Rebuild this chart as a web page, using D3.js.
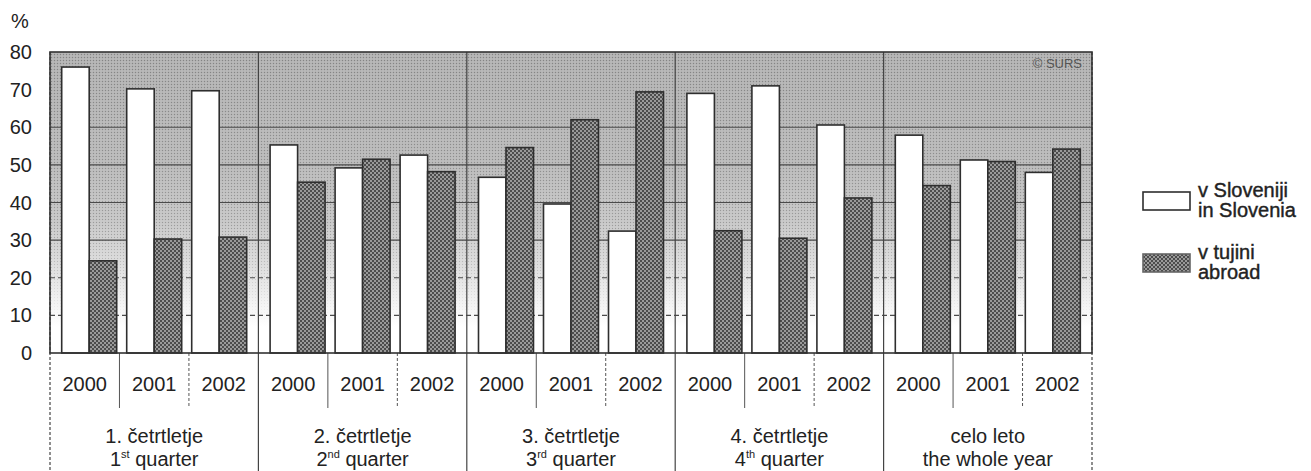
<!DOCTYPE html>
<html>
<head>
<meta charset="utf-8">
<script src="https://cdn.jsdelivr.net/npm/d3@7"></script>
<style>
  body { margin: 0; background: #fff; }
  svg text { font-family: "Liberation Sans", Arial, sans-serif; fill: #222; }
</style>
</head>
<body>
<svg id="chart" width="1311" height="471"></svg>
<script>
var groups = ["q1", "q2", "q3", "q4", "year"]
var groupLine1 = ["1. četrtletje", "2. četrtletje", "3. četrtletje", "4. četrtletje", "celo leto"]
var groupNum = ["1", "2", "3", "4", null]
var groupSup = ["st", "nd", "rd", "th", null]
var groupLine2 = ["quarter", "quarter", "quarter", "quarter", "the whole year"]
var years = ["2000", "2001", "2002"]
var series = ["slo", "abroad"]
var seriesLabels = [["v Sloveniji", "in Slovenia"], ["v tujini", "abroad"]]

// per group, per year: [v Sloveniji, v tujini]
var inSlovenia = [
    [76, 70.2, 69.7],
    [55.3, 49.2, 52.6],
    [46.7, 39.6, 32.4],
    [69, 71, 60.6],
    [57.9, 51.3, 48]
]
var abroad = [
    [24.5, 30.3, 30.8],
    [45.4, 51.5, 48.2],
    [54.6, 62, 69.4],
    [32.5, 30.5, 41.2],
    [44.5, 50.9, 54.2]
]
var yTicks = [0, 10, 20, 30, 40, 50, 60, 70, 80]
var gridValues = [10, 20, 30, 40, 50, 60]

var svg = d3.select("#chart")
var defs = svg.append("defs")

var margin = { top: 52, left: 50, right: 219, bottom: 118 }
var width = 1311, height = 471

var x0 = d3.scaleBand().domain(groups).range([margin.left, width - margin.right])
var xYear = d3.scaleBand().domain(years).range([0, x0.bandwidth()]).paddingInner(0.154).paddingOuter(0.18)
var xSer = d3.scaleBand().domain(series).range([0, xYear.bandwidth()])
var xLab = d3.scaleBand().domain(years).range([0, x0.bandwidth()])
var y = d3.scaleLinear().domain([0, 80]).range([height - margin.bottom, margin.top])

// background shading: dark halftone at top fading to white near zero
var grad = defs.append("linearGradient").attr("id", "bg")
    .attr("gradientUnits", "userSpaceOnUse")
    .attr("x1", 0).attr("x2", 0).attr("y1", y(80)).attr("y2", y(0))
var stops = [[80, "#b0b0b0"], [50, "#b9b9b9"], [35, "#c6c6c6"], [25, "#dadada"], [15, "#efefef"], [7, "#ffffff"], [0, "#ffffff"]]
stops.forEach(function(s) {
    grad.append("stop").attr("offset", (y(s[0]) - y(80)) / (y(0) - y(80))).attr("stop-color", s[1])
})

var maskGrad = defs.append("linearGradient").attr("id", "maskGrad")
    .attr("gradientUnits", "userSpaceOnUse")
    .attr("x1", 0).attr("x2", 0).attr("y1", y(80)).attr("y2", y(0))
maskGrad.append("stop").attr("offset", 0).attr("stop-color", "#fff")
maskGrad.append("stop").attr("offset", 0.6).attr("stop-color", "#ddd")
maskGrad.append("stop").attr("offset", 0.9).attr("stop-color", "#000")
defs.append("mask").attr("id", "bgMask")
    .append("rect").attr("x", 0).attr("y", 0).attr("width", width).attr("height", height)
    .attr("fill", "url(#maskGrad)")

var dots = defs.append("pattern").attr("id", "dots")
    .attr("patternUnits", "userSpaceOnUse").attr("width", 3).attr("height", 3)
dots.append("rect").attr("width", 1).attr("height", 1).attr("fill", "rgba(0,0,0,0.25)")
dots.append("rect").attr("x", 1.5).attr("y", 1.5).attr("width", 1).attr("height", 1).attr("fill", "rgba(255,255,255,0.35)")

var dark = defs.append("pattern").attr("id", "dark")
    .attr("patternUnits", "userSpaceOnUse").attr("width", 4).attr("height", 4)
dark.append("rect").attr("width", 4).attr("height", 4).attr("fill", "#9a9a9a")
dark.append("rect").attr("width", 2).attr("height", 2).attr("fill", "#4c4c4c")
dark.append("rect").attr("x", 2).attr("y", 2).attr("width", 2).attr("height", 2).attr("fill", "#4c4c4c")

var plotW = width - margin.left - margin.right
var plotH = y(0) - y(80)

svg.append("rect")
    .attr("x", margin.left).attr("y", y(80)).attr("width", plotW).attr("height", plotH)
    .attr("fill", "url(#bg)")
svg.append("rect")
    .attr("x", margin.left).attr("y", y(80)).attr("width", plotW).attr("height", plotH)
    .attr("fill", "url(#dots)").attr("mask", "url(#bgMask)")

// horizontal grid
svg.append("g").selectAll("line")
    .data(gridValues)
    .enter().append("line")
    .attr("x1", margin.left).attr("x2", width - margin.right)
    .attr("y1", function(d) { return y(d) }).attr("y2", function(d) { return y(d) })
    .attr("stroke", "#4a4a4a").attr("stroke-width", 1.2)
    .attr("stroke-dasharray", function(d) { return d <= 20 ? "5,3" : null })

// group dividers, run through plot and down past labels
var groupEdges = groups.map(function(g) { return x0(g) }).concat([width - margin.right])
svg.append("g").selectAll("line")
    .data(groupEdges)
    .enter().append("line")
    .attr("x1", function(d) { return d }).attr("x2", function(d) { return d })
    .attr("y1", y(80)).attr("y2", height)
    .attr("stroke", "#444").attr("stroke-width", 1.2)
    .attr("stroke-dasharray", function(d, i) { return i == 0 || i == groupEdges.length - 1 ? "3,2" : null })

// year dividers below the axis
var yearEdges = []
groups.forEach(function(g) {
    years.slice(1).forEach(function(yr) { yearEdges.push(x0(g) + xLab(yr)) })
})
svg.append("g").selectAll("line")
    .data(yearEdges)
    .enter().append("line")
    .attr("x1", function(d) { return d }).attr("x2", function(d) { return d })
    .attr("y1", y(0)).attr("y2", y(0) + 55)
    .attr("stroke", "#555").attr("stroke-width", 1)
    .attr("stroke-dasharray", function(d, i) { return i % 2 ? "3,2" : null })

// bars
var barData = []
groups.forEach(function(g, gi) {
    years.forEach(function(yr, yi) {
        barData.push({ g: g, yr: yr, s: "slo", v: inSlovenia[gi][yi] })
        barData.push({ g: g, yr: yr, s: "abroad", v: abroad[gi][yi] })
    })
})
svg.append("g").selectAll("rect")
    .data(barData)
    .enter().append("rect")
    .attr("x", function(d) { return x0(d.g) + xYear(d.yr) + xSer(d.s) })
    .attr("width", xSer.bandwidth())
    .attr("y", function(d) { return y(d.v) })
    .attr("height", function(d) { return y(0) - y(d.v) })
    .attr("fill", function(d) { return d.s == "slo" ? "#fff" : "url(#dark)" })
    .attr("stroke", "#2e2e2e").attr("stroke-width", 1.6)

// plot frame
svg.append("rect")
    .attr("x", margin.left).attr("y", y(80)).attr("width", plotW).attr("height", plotH)
    .attr("fill", "none").attr("stroke", "#333").attr("stroke-width", 1.6)

// y axis labels
svg.append("g").selectAll("text")
    .data(yTicks)
    .enter().append("text")
    .attr("x", 32).attr("y", function(d) { return y(d) + 7 })
    .attr("text-anchor", "end").attr("font-size", 20)
    .text(function(d) { return d })
svg.append("text").attr("x", 11).attr("y", 28).attr("font-size", 20).text("%")

svg.append("text")
    .attr("x", width - margin.right - 10).attr("y", y(80) + 16)
    .attr("text-anchor", "end").attr("font-size", 13).style("fill", "#555")
    .text("© SURS")

// year labels
var yearLab = []
groups.forEach(function(g) { years.forEach(function(yr) { yearLab.push({ g: g, yr: yr }) }) })
svg.append("g").selectAll("text")
    .data(yearLab)
    .enter().append("text")
    .attr("x", function(d) { return x0(d.g) + xLab(d.yr) + xLab.bandwidth() / 2 })
    .attr("y", y(0) + 38)
    .attr("text-anchor", "middle").attr("font-size", 20)
    .text(function(d) { return d.yr })

// group labels
var gl = svg.append("g").selectAll("g")
    .data(groups)
    .enter().append("g")
    .attr("transform", function(d) { return "translate(" + (x0(d) + x0.bandwidth() / 2) + ",0)" })
gl.append("text")
    .attr("y", 443).attr("text-anchor", "middle").attr("font-size", 20)
    .text(function(d, i) { return groupLine1[i] })
var l2 = gl.append("text")
    .attr("y", 466).attr("text-anchor", "middle").attr("font-size", 20)
l2.each(function(d, i) {
    var t = d3.select(this)
    if (groupNum[i]) {
        t.append("tspan").text(groupNum[i])
        t.append("tspan").attr("font-size", 11).attr("dy", -8).text(groupSup[i])
        t.append("tspan").attr("dy", 8).text(" " + groupLine2[i])
    } else {
        t.text(groupLine2[i])
    }
})

// legend
var legend = svg.append("g").attr("transform", "translate(1143,0)")
var legTop = [192, 254]
series.forEach(function(s, i) {
    legend.append("rect")
        .attr("x", 0).attr("y", legTop[i]).attr("width", 47).attr("height", 18)
        .attr("fill", s == "slo" ? "#fff" : "url(#dark)")
        .attr("stroke", s == "slo" ? "#2e2e2e" : "#666").attr("stroke-width", 1.6)
    legend.append("text").attr("x", 55).attr("y", legTop[i] + 5).attr("font-size", 20)
        .style("stroke", "#222").style("stroke-width", 0.4)
        .text(seriesLabels[i][0])
    legend.append("text").attr("x", 55).attr("y", legTop[i] + 25).attr("font-size", 20)
        .style("stroke", "#222").style("stroke-width", 0.4)
        .text(seriesLabels[i][1])
})
</script>
</body>
</html>
